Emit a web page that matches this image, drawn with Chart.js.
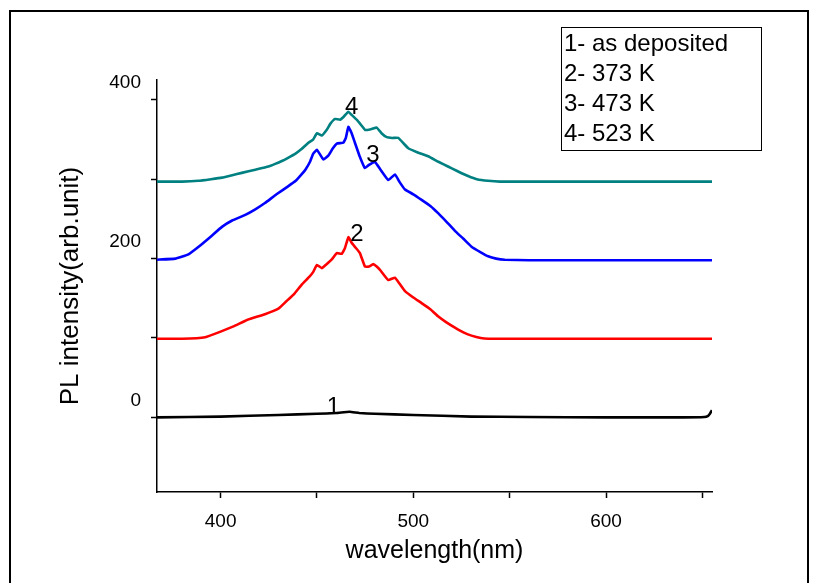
<!DOCTYPE html>
<html>
<head>
<meta charset="utf-8">
<title>PL intensity vs wavelength</title>
<script src="https://cdn.jsdelivr.net/npm/chart.js"></script>
<style>
  html, body { margin: 0; padding: 0; background: #fff; }
  #wrap { position: relative; width: 814px; height: 583px; overflow: hidden; }
  #frame {
    position: absolute; left: 9px; top: 10px; width: 800px; height: 600px;
    border: 2px solid #000; box-sizing: border-box; pointer-events: none;
  }
  canvas { position: absolute; left: 0; top: 0; }
</style>
</head>
<body>
<div id="wrap">
  <canvas id="plChart" width="814" height="583"></canvas>
  <div id="frame"></div>
</div>
<script>
// Curve 1 - as deposited
const wl1 = [367, 400, 430, 450, 460, 464, 467, 472, 480, 500, 530, 560, 600, 640, 651, 653, 654, 655];
const pl1 = [0, 1, 3, 4.5, 5.5, 6.5, 7, 5.5, 4.5, 3, 1, 0.5, 0, 0, 0.5, 2, 5, 9];

// Curve 2 - 373 K
const wl2 = [367, 380, 392, 400, 407, 414, 423, 430, 434, 438, 442, 446, 448, 450, 452.5, 455, 457.7, 460.3, 462.9, 464.5, 466.3, 468, 470, 472.3, 474.9, 477, 479.2, 481, 483, 487, 490.5, 493, 495.7, 500, 504.3, 509, 513, 517, 521.6, 526, 530.2, 535, 539, 545, 560, 580, 600, 620, 640, 655];
const pl2 = [99, 99, 101, 108, 115, 123, 130, 137, 146, 155, 167, 177, 183, 192, 188, 193, 199, 207, 206, 213, 227, 220, 214, 207, 190, 190, 193, 190, 185, 173, 176, 168, 159, 151, 144, 136, 127, 120, 113, 107, 103, 100, 99, 99, 99, 99, 99, 99, 99, 99];

// Curve 3 - 473 K
const wl3 = [367, 376.5, 383, 388.6, 395, 400.7, 406, 412.8, 418, 423, 429, 435, 439, 442, 444, 446.4, 448, 450, 453.3, 456, 458, 460.3, 463.7, 465, 466.3, 468, 469.7, 472, 474.9, 477, 480, 483, 487, 490.5, 493, 495.7, 500, 504.3, 509, 513, 517, 521.6, 526, 530.2, 535, 538.8, 543, 547.5, 560, 580, 600, 620, 640, 655];
const pl3 = [198.6, 200, 205, 215, 228, 240, 248, 255, 262, 270, 281, 291, 298, 306, 312, 322, 332, 337, 325, 330, 338, 345, 346, 352, 366, 358, 346, 330, 314, 318, 322, 312, 299, 306, 296, 287, 281, 274, 266, 257, 247, 235, 225, 215, 208, 203, 200, 198.6, 198, 198, 198, 198, 198, 198];

// Curve 4 - 523 K
const wl4 = [367, 380, 388.6, 395, 400.7, 406, 411, 418, 424.8, 428, 431.8, 435, 438.7, 442, 445.6, 448, 450, 452.5, 455, 457, 459.4, 462, 464, 466.3, 468, 470.6, 473, 475, 478, 481, 483.5, 486.2, 489, 492.2, 495, 497.4, 502, 507.7, 513, 518, 523, 528.4, 533, 538.8, 545, 560, 580, 600, 620, 640, 655];
const pl4 = [297, 297, 298, 300, 302, 305, 308, 312, 316, 319, 323, 327, 332, 338, 346, 350, 358, 355, 362, 370, 376, 375, 379, 385, 381, 375, 368, 362, 363, 365, 358, 353, 352, 352, 345, 339, 334, 329, 322, 316, 310, 304, 300, 298, 297, 297, 297, 297, 297, 297, 297];

const legendLines = ['1- as deposited', '2- 373 K', '3- 473 K', '4- 523 K'];

// numbers written next to each curve, in data units
const curveTags = [
  { text: '1', x: 458.5, y: 12 },
  { text: '2', x: 470.7, y: 231 },
  { text: '3', x: 479, y: 330 },
  { text: '4', x: 468, y: 391 }
];

const FONT = 'Liberation Sans, Arial, sans-serif';

function toPoints(xs, ys) {
  return xs.map((x, i) => ({ x: x, y: ys[i] }));
}

// legend box and curve numbers drawn on top
const notesPlugin = {
  id: 'notes',
  afterDatasetsDraw(chart) {
    const ctx = chart.ctx;
    const xs = chart.scales.x;
    const ys = chart.scales.y;
    ctx.save();
    ctx.fillStyle = '#000';
    ctx.font = '24px ' + FONT;
    ctx.textAlign = 'center';
    ctx.textBaseline = 'middle';
    for (const t of curveTags) {
      ctx.fillText(t.text, xs.getPixelForValue(t.x), ys.getPixelForValue(t.y));
    }
    // legend box
    ctx.strokeStyle = '#000';
    ctx.lineWidth = 1;
    ctx.strokeRect(561.5, 27.5, 200, 123);
    ctx.textAlign = 'left';
    legendLines.forEach((line, i) => {
      ctx.fillText(line, 564, 44 + i * 30);
    });
    ctx.restore();
  }
};

const ctx = document.getElementById('plChart').getContext('2d');
const chart = new Chart(ctx, {
  type: 'line',
  data: {
    datasets: [
      { label: '1- as deposited', data: toPoints(wl1, pl1), borderColor: '#000000' },
      { label: '2- 373 K', data: toPoints(wl2, pl2), borderColor: '#ff0000' },
      { label: '3- 473 K', data: toPoints(wl3, pl3), borderColor: '#0000ff' },
      { label: '4- 523 K', data: toPoints(wl4, pl4), borderColor: '#008080' }
    ]
  },
  options: {
    responsive: false,
    animation: false,
    parsing: false,
    datasets: {
      line: { borderWidth: 2.6, pointRadius: 0, tension: 0.1, fill: false }
    },
    layout: { padding: { top: 80, right: 102, left: 0, bottom: 0 } },
    plugins: {
      legend: { display: false },
      tooltip: { enabled: false }
    },
    scales: {
      x: {
        type: 'linear',
        min: 367,
        max: 655,
        afterFit(scale) { scale.height = 91; },
        border: { display: true, color: '#000', width: 1.5 },
        grid: { drawOnChartArea: false, tickLength: 6, tickColor: '#000', tickWidth: 1.5 },
        ticks: {
          stepSize: 50,
          includeBounds: false,
          maxRotation: 0,
          autoSkip: false,
          padding: 12,
          color: '#000',
          font: { family: FONT, size: 19 },
          callback: (v) => (v % 100 === 0 ? String(v) : '')
        },
        title: {
          display: true,
          text: 'wavelength(nm)',
          color: '#000',
          font: { family: FONT, size: 25 },
          padding: { top: 0, bottom: 17 }
        }
      },
      y: {
        type: 'linear',
        min: -94,
        max: 425,
        afterFit(scale) { scale.width = 157; },
        border: { display: true, color: '#000', width: 1.5 },
        grid: { drawOnChartArea: false, tickLength: 6, tickColor: '#000', tickWidth: 1.5 },
        ticks: {
          stepSize: 100,
          includeBounds: false,
          autoSkip: false,
          padding: 10,
          labelOffset: -17,
          color: '#000',
          font: { family: FONT, size: 19 },
          callback: (v) => (v % 200 === 0 ? String(v) : '')
        },
        title: {
          display: true,
          text: 'PL intensity(arb.unit)',
          color: '#000',
          font: { family: FONT, size: 26 },
          padding: { top: 55, bottom: 0 }
        }
      }
    }
  },
  plugins: [notesPlugin]
});
</script>
</body>
</html>
